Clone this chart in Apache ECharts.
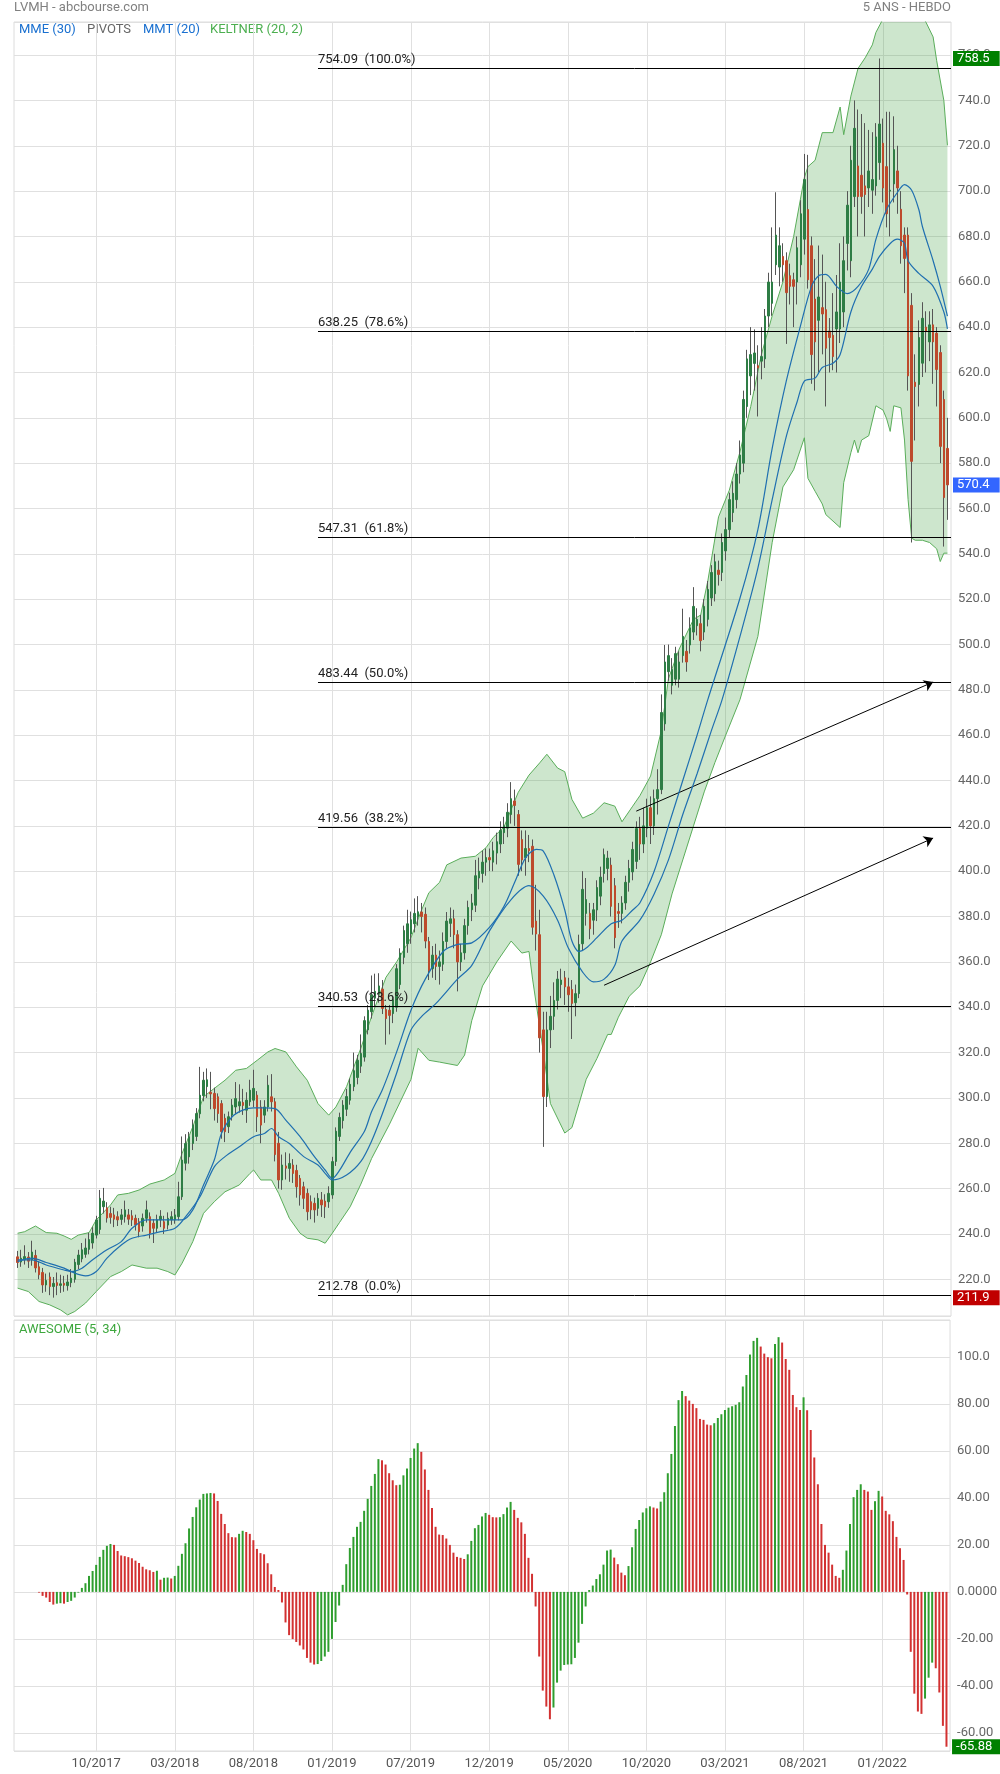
<!DOCTYPE html>
<html><head><meta charset="utf-8">
<script src="https://cdn.jsdelivr.net/npm/echarts@6/dist/echarts.min.js"></script>
<style>html,body{margin:0;padding:0;background:#fff}#c{width:1000px;height:1774px}</style>
</head><body><div id="c"></div>
<script>
// ---- weekly candles [open, close, low, high], week 0 = 2017-05-22 ----
const CANDLES = [
[229.9,227.4,225.0,232.5],[227.6,229.3,225.5,233.0],[228.6,230.0,226.5,235.0],[229.8,228.0,225.0,232.0],[228.5,232.0,226.0,237.0],
[230.5,225.0,223.0,233.0],[225.5,222.0,220.0,228.0],[223.0,217.5,214.0,225.0],[217.5,219.5,214.5,222.5],[221.0,216.8,213.0,223.0],
[216.8,218.2,211.9,221.0],[218.5,217.3,213.0,223.0],[217.3,218.0,214.0,222.0],[218.2,217.4,214.5,221.5],[217.2,218.8,215.0,222.0],
[218.5,220.5,216.5,224.5],[220.0,227.5,218.5,229.0],[226.5,230.7,224.5,233.0],[229.0,233.0,227.5,236.0],[231.0,233.8,229.5,238.0],
[233.2,237.5,231.0,240.5],[236.0,240.3,233.5,243.0],[239.5,246.2,238.0,248.0],[242.0,255.7,240.0,259.4],[252.0,254.5,249.0,260.3],
[251.5,247.0,245.0,254.0],[249.0,247.3,244.5,252.0],[248.4,246.5,243.0,251.5],[247.6,246.2,243.5,250.0],[246.4,248.4,244.0,251.0],
[247.6,250.6,245.0,254.7],[248.4,246.5,244.0,251.0],[248.0,246.2,243.5,250.5],[246.9,244.0,241.5,248.5],[245.4,241.0,238.5,247.0],
[243.5,246.9,241.0,249.0],[246.9,250.6,245.0,254.7],[247.6,240.3,238.0,249.5],[244.7,242.5,236.0,246.5],[242.5,246.2,240.5,248.5],
[246.2,247.8,243.0,250.5],[245.4,242.5,240.0,248.0],[243.9,246.9,242.0,249.5],[246.2,247.6,244.0,250.0],[246.2,248.4,244.5,251.0],
[247.6,256.4,246.0,263.0],[256.4,272.6,255.0,283.0],[271.2,279.9,268.0,284.0],[274.0,282.9,271.0,285.0],[279.9,288.0,277.0,290.5],
[283.0,293.1,281.0,295.5],[293.0,301.2,291.0,313.7],[301.0,307.8,298.5,311.5],[305.0,308.0,300.0,313.0],[302.5,301.8,295.0,311.5],
[302.0,295.3,290.0,304.5],[300.5,293.1,289.0,302.0],[297.5,285.1,282.0,299.0],[291.0,285.1,280.5,293.0],[287.3,291.7,284.5,294.0],
[292.4,296.8,290.0,299.5],[296.0,299.7,293.0,307.0],[296.5,298.3,293.5,306.0],[298.0,296.7,292.5,304.0],[294.6,299.0,289.0,302.5],
[298.3,303.4,296.5,308.0],[299.0,304.2,296.0,312.4],[301.2,291.7,285.0,303.0],[296.0,288.0,280.0,299.0],[292.4,296.0,289.0,299.0],
[296.0,305.6,294.0,310.0],[300.5,298.3,294.0,310.5],[298.3,275.0,272.0,300.0],[280.0,263.8,260.0,285.0],[263.8,270.4,259.5,275.0],
[270.0,269.0,264.0,276.0],[268.9,271.1,263.0,275.5],[270.4,266.7,262.5,273.0],[268.0,260.8,256.0,270.5],[264.5,257.2,252.5,266.0],
[260.8,255.7,251.0,263.0],[257.9,249.8,246.0,260.0],[254.2,250.6,246.5,257.0],[253.5,250.6,245.0,256.0],[251.3,255.7,248.0,258.0],
[255.0,252.8,247.5,258.5],[254.5,252.0,247.0,257.5],[254.2,257.9,251.5,261.0],[257.2,271.9,255.5,274.0],[272.0,285.3,270.0,287.0],
[283.0,291.4,281.0,293.5],[290.0,296.8,286.5,299.0],[295.0,300.6,292.0,304.0],[299.0,306.0,297.0,308.5],[305.0,312.0,303.0,320.0],
[309.0,316.6,306.0,319.0],[314.0,319.6,311.0,328.0],[318.0,334.1,316.0,336.0],[330.0,338.7,328.0,341.0],[338.0,345.5,335.0,354.0],
[344.0,347.0,340.0,354.8],[346.0,349.4,342.0,355.0],[348.0,339.5,337.0,352.0],[339.0,335.0,323.5,341.0],[338.7,336.4,328.0,341.0],
[337.2,343.3,333.0,345.0],[340.0,357.0,338.0,359.0],[350.0,363.9,348.0,366.0],[362.0,373.8,359.0,376.0],[368.0,376.8,364.0,383.0],
[372.3,378.6,368.0,382.2],[376.8,381.4,373.0,388.0],[379.9,382.1,376.0,389.0],[382.0,380.0,373.0,386.0],[381.0,369.2,366.0,384.0],
[369.0,356.0,352.0,371.0],[357.0,363.0,353.0,367.0],[363.0,358.0,352.0,368.0],[358.0,360.0,350.0,365.0],[359.0,369.0,356.0,373.0],
[369.0,378.0,366.0,382.0],[377.0,379.0,371.0,384.0],[379.0,372.0,366.0,383.0],[372.0,360.0,347.0,374.0],[360.0,364.0,356.0,368.0],
[364.0,376.0,361.0,379.0],[376.0,384.0,372.0,387.0],[383.0,386.0,378.0,390.0],[385.0,398.0,382.0,405.0],[397.0,400.0,392.0,406.0],
[399.0,404.0,395.0,409.0],[404.0,406.0,398.0,410.0],[406.0,405.0,400.0,410.0],[404.0,409.0,400.0,413.0],[408.0,413.0,403.0,417.0],
[412.0,418.0,408.0,422.0],[417.0,420.0,412.0,424.0],[419.0,426.0,415.0,430.0],[425.0,432.0,421.0,439.3],[431.0,429.0,420.0,436.0],
[425.0,403.0,398.0,427.0],[414.0,405.0,400.0,418.0],[406.0,410.0,398.0,418.0],[410.0,409.0,404.0,416.0],[411.0,375.3,372.0,414.0],
[378.0,372.3,365.0,394.0],[372.0,326.5,320.0,383.0],[330.0,300.6,278.4,338.0],[300.6,330.0,296.0,338.0],[330.0,336.0,322.0,345.0],
[336.0,343.0,330.0,351.0],[343.0,352.4,339.0,356.0],[350.0,352.0,344.0,357.0],[353.0,349.0,341.0,356.0],[349.0,345.5,338.0,353.0],
[347.8,341.7,326.0,352.0],[342.0,346.0,336.0,350.0],[346.0,367.7,344.0,372.0],[368.0,392.0,365.0,400.0],[381.4,387.5,376.0,397.0],
[381.4,374.6,370.0,386.0],[378.4,383.0,372.0,386.0],[382.9,392.8,378.0,396.0],[389.0,397.4,385.0,402.0],[399.0,407.3,395.0,410.0],
[401.2,405.8,396.0,409.0],[402.7,384.5,380.0,406.0],[393.6,370.7,366.0,397.0],[382.2,381.4,375.0,386.0],[381.4,386.0,377.0,389.0],
[386.0,395.1,383.0,398.0],[395.1,401.2,391.0,405.0],[399.7,409.6,396.0,413.0],[404.3,418.8,401.0,422.0],[418.8,412.0,405.0,424.0],
[412.0,420.0,408.0,428.0],[419.0,428.0,415.0,432.0],[428.0,420.0,412.0,433.0],[420.0,432.0,416.0,436.0],[432.0,436.0,425.0,445.0],
[436.0,470.0,434.0,478.0],[465.0,492.3,462.0,499.8],[488.0,495.1,484.0,500.0],[482.0,489.0,478.0,494.0],[484.7,496.0,482.0,499.0],
[484.7,492.3,481.0,497.0],[495.1,503.6,492.0,515.8],[497.0,492.3,488.0,502.0],[499.8,507.4,496.0,512.0],[505.5,516.8,502.0,525.3],
[508.3,511.1,504.0,516.0],[509.2,501.7,497.0,513.0],[505.5,516.8,502.0,520.0],[511.1,524.3,508.0,528.0],[520.5,531.8,517.0,535.0],
[522.4,536.5,519.0,540.0],[532.8,530.9,526.0,537.0],[531.8,545.0,528.0,549.0],[541.3,550.7,537.0,556.0],[550.7,563.9,547.0,567.0],
[558.2,566.7,554.0,572.0],[563.9,575.2,560.0,580.0],[575.2,583.6,571.0,590.0],[580.0,608.1,576.0,612.0],[605.0,626.0,600.0,630.0],
[618.5,627.9,610.0,640.0],[624.0,628.6,612.0,639.0],[623.0,622.0,600.6,632.0],[625.0,627.0,617.0,640.0],[626.0,644.9,622.0,648.0],
[644.9,659.9,640.0,664.0],[650.5,659.9,645.0,684.0],[667.5,680.6,663.0,699.5],[666.5,675.9,658.0,684.0],[671.2,667.5,660.0,677.0],
[669.3,655.2,632.6,673.0],[662.7,658.0,650.0,668.0],[660.9,658.0,640.0,664.0],[659.9,675.0,650.0,680.0],[667.5,690.0,662.0,696.0],
[678.8,705.1,672.0,716.4],[691.9,660.9,657.0,716.0],[675.9,627.9,615.0,680.0],[652.4,633.5,612.0,670.0],[643.0,653.3,620.0,676.0],
[648.6,645.8,628.0,672.0],[647.7,630.7,605.0,660.0],[638.3,635.4,620.0,644.0],[636.4,627.0,621.0,655.0],[639.2,646.7,620.0,663.0],
[639.2,659.9,633.0,677.0],[646.7,669.3,640.0,680.0],[676.9,693.8,665.0,700.0],[669.3,713.6,662.0,720.0],[697.6,727.7,693.0,740.0],
[711.1,697.6,680.0,736.0],[707.0,697.6,690.0,734.0],[702.3,698.5,680.0,730.0],[701.4,708.9,693.0,727.0],[700.4,705.1,690.0,726.0],
[702.3,723.9,698.0,730.0],[712.6,729.6,705.0,758.5],[721.1,701.4,695.0,732.0],[710.8,690.0,684.0,735.0],[700.0,700.4,680.0,735.0],
[703.2,718.3,695.0,733.0],[708.9,701.4,690.0,720.0],[692.0,675.9,668.0,700.0],[680.6,670.3,655.0,684.0],[680.6,618.5,612.0,684.0],
[649.6,580.8,545.0,655.0],[615.7,613.8,590.0,628.0],[614.7,635.4,605.0,643.0],[624.1,643.9,618.0,651.0],[640.0,638.0,620.0,647.0],
[633.5,641.0,625.0,647.0],[641.0,633.5,615.0,648.0],[637.3,621.3,605.0,640.0],[628.8,587.4,580.0,632.0],[608.1,564.8,543.2,612.0],
[586.5,570.4,555.0,600.0]
];

// ---- Awesome oscillator, from week 6 ----
const AO_START = 6;
const AO = [
-0.3,-1.7,-2.4,-4.3,-5.4,-5.0,-4.8,-5.0,-4.3,-3.8,-2.4,-0.3,1.7,3.7,6.8,8.9,
11.5,14.9,17.9,19.6,20.4,20.0,17.4,15.5,15.2,14.8,14.3,13.3,12.3,10.7,9.6,9.2,8.5,9.0,5.2,6.0,6.1,5.7,
6.8,11.1,16.2,20.7,27.0,31.9,36.0,39.3,41.7,41.9,42.1,41.9,38.7,33.2,28.9,25.0,23.3,23.2,24.7,26.0,25.5,24.7,
22.0,18.3,16.5,16.0,12.2,7.5,2.1,0.8,-4.5,-13.0,-18.4,-20.1,-21.3,-22.8,-24.5,-28.1,-30.1,-30.9,-30.7,-29.4,-27.5,-25.5,
-20.0,-12.8,-5.8,3.0,11.8,18.7,23.4,27.7,29.8,34.5,39.6,45.1,50.2,56.5,56.0,54.2,50.5,47.5,45.4,45.6,49.6,52.5,
57.0,61.0,63.3,59.6,52.1,43.4,35.7,27.7,24.4,24.2,22.7,20.0,16.7,14.9,14.5,14.0,16.0,21.7,27.1,28.5,32.1,33.6,
32.8,31.8,31.7,31.8,33.1,35.9,38.3,34.9,31.5,29.6,24.7,14.5,7.7,-6.2,-27.5,-42.0,-48.8,-54.2,-49.2,-38.6,-33.5,-31.1,
-30.9,-30.8,-28.1,-21.6,-13.6,-6.2,0.8,2.7,5.5,7.5,11.6,17.6,18.0,14.6,11.8,8.2,7.1,11.0,19.0,26.8,30.6,33.8,
35.6,36.4,35.9,35.5,38.4,42.4,50.5,58.7,70.6,81.6,85.5,83.3,81.4,80.0,78.2,73.6,73.2,71.2,70.9,71.8,74.0,75.6,
77.4,78.4,79.0,79.6,80.7,87.4,92.3,101.0,106.8,108.1,104.4,101.4,99.9,99.4,105.5,108.4,106.1,99.1,94.5,83.8,78.6,77.4,
82.8,77.3,68.9,57.2,45.8,28.9,20.0,16.7,11.6,6.8,6.0,9.4,17.6,28.9,40.3,43.4,45.8,43.4,42.7,34.9,38.6,43.0,
40.6,34.5,33.0,30.1,23.4,18.6,13.6,-1.1,-25.5,-43.3,-50.9,-51.9,-45.4,-36.5,-30.1,-32.5,-42.8,-57.0,-65.88
];

// ---- Keltner (20,2) bands, read as [week, value] ----
const KELT_UP = [[0,240.3],[2,241],[5,243.5],[8,240.6],[11,240.3],[13,239.1],[15,237.6],[17,239.5],[20,240.6],[22,246.2],[26,252.8],[28,257.2],[31,257.9],[34,259.4],[37,262],[41,263.8],[44,266.7],[46,275.5],[49,287.3],[52,300.5],[55,304.2],[58,307.8],[61,312.2],[64,313],[67,316.6],[70,320.3],[72,321.8],[75,320.3],[78,313.7],[81,307.8],[84,297.5],[87,292.4],[89,296],[92,305],[96,322],[99,336],[103,353.2],[106,360],[110,370.7],[113,383],[115,390.5],[118,395.1],[120,402.8],[124,405.8],[128,406.6],[131,410.4],[133,414.9],[136,419.5],[140,434.8],[143,442.4],[146,447.8],[148,451.6],[151,445.5],[153,443.9],[155,431.7],[158,423.4],[161,425.6],[164,430.2],[167,428.7],[169,421.8],[172,428.7],[174,433.3],[177,442],[180,462],[182,485],[185,498],[189,511.1],[191,513],[193,528],[196,556.3],[199,568],[202,585],[205,605],[208,628],[211,645],[214,660],[217,680],[220,706],[221,710.8],[223,713.6],[225,725.8],[228,725.8],[230,737.1],[231,724.9],[233,741.9],[235,754.1],[237,758.8],[239,764.5],[240,770],[242,776],[244,782],[247,785],[250,784],[252,779],[254,774.5],[256,768],[257,757.5],[259,740],[260,720.2]];
const KELT_LO = [[0,216.1],[3,214.6],[6,210.2],[9,208.7],[12,206.5],[14,204.3],[16,205.8],[19,209.5],[22,214.6],[26,221.2],[29,223.4],[32,226.3],[36,224.9],[39,224.9],[42,223.4],[44,221.9],[46,227.1],[49,236.6],[52,249.1],[55,254.2],[58,258.6],[62,261.6],[65,266.7],[66,268.2],[68,263.8],[71,263.8],[73,257.9],[76,246.9],[79,240.3],[81,238.1],[84,237.4],[86,235.9],[88,240.3],[90,245],[93,252],[96,262],[99,273.3],[104,288.4],[110,308.2],[112,321.9],[115,316.6],[118,315.8],[123,314.3],[125,318.9],[127,334.1],[130,349.4],[134,360],[138,369.2],[141,363.9],[143,364.6],[144,352.4],[147,320.4],[149,297.5],[153,284.5],[155,286.9],[157,297.5],[159,308.2],[162,317.4],[165,328],[166,328],[168,335.6],[171,344.8],[174,349.4],[177,360],[180,372],[183,390],[186,405],[189,420],[192,435],[195,448],[198,460],[202,475.7],[207,503.6],[211,545],[214,569.5],[217,577.1],[220,591.2],[221,573.3],[223,567.6],[225,562],[226,557.3],[230,551.6],[231,571.4],[233,584.6],[234,590.2],[235,584.6],[236,590.2],[238,592.1],[240,605.3],[242,603.4],[243,599.6],[244,594],[245,605.3],[247,604.4],[248,590.2],[249,563.9],[250,546.9],[251,546],[253,546],[255,545],[257,542.2],[258,536.6],[259,540.3],[260,540.3]];

// ---- moving averages MMT(20) / MME(30), read as [week, value] ----
const MA_A = [[0,228.6],[4,228.6],[8,226.3],[13,224.1],[15,223.4],[18,224.9],[21,228.6],[25,233],[29,236.6],[32,242.5],[36,246.2],[40,246.2],[43,246.2],[46,246.2],[49,250.6],[52,261.6],[55,272.6],[57,284.3],[60,291.7],[63,294.6],[66,295.6],[69,295.6],[72,295.3],[75,290.2],[79,282.9],[83,274.1],[86,268.2],[88,264.5],[90,268],[93,276],[97,285.3],[99,294],[102,303.6],[106,320.3],[110,338.7],[114,352.4],[119,364.6],[123,367.7],[127,368.4],[132,375.3],[136,384.5],[139,395.1],[142,405.8],[145,409.6],[147,408.9],[150,398.2],[153,382.9],[155,369.2],[157,364.6],[159,366.1],[162,370.7],[166,376.8],[169,378.4],[172,382.9],[174,386],[178,400],[182,420],[186,440],[190,460],[193,475.7],[202,520.5],[207,550.7],[211,586.5],[215,616.6],[219,641.1],[222,658],[224,662.7],[226,663.3],[229,658],[232,654.8],[235,658],[238,665.6],[240,678.7],[243,691.9],[246,699.4],[248,702.9],[250,700.4],[252,691.9],[253,684.4],[256,669.3],[258,658],[260,644.9]];
const MA_B = [[0,227.8],[4,229.3],[8,227.4],[13,224.9],[16,222.7],[19,221.5],[22,223.4],[25,229.3],[29,235.1],[32,238.1],[36,239.5],[40,241],[44,242.5],[47,247.6],[51,256.4],[55,269.6],[58,274.1],[62,278.5],[66,282.9],[69,284.3],[71,286.5],[73,282.9],[76,279.9],[80,274.1],[84,270.4],[86,266.7],[88,263.8],[92,266],[96,272],[99,281],[102,293],[106,311],[110,330],[113,336],[117,341.7],[123,352.4],[127,358.5],[132,373.8],[138,387.5],[143,393.6],[147,389],[151,378.4],[154,366.1],[158,355.5],[161,351.2],[164,352.4],[167,358.5],[169,369.2],[174,378.4],[178,390],[182,405],[186,425],[190,443],[194,462],[197,475.7],[202,503.6],[207,533.7],[211,563.9],[215,592.1],[218,607.2],[220,616.2],[223,617.5],[225,622.2],[228,624.1],[230,627.9],[233,646.7],[236,658],[239,665.6],[241,671.2],[244,676.9],[246,678.8],[248,676.9],[249,669.3],[252,663.7],[256,658],[259,646.7],[260,639.2]];

// ---- Fibonacci levels and drawn arrows ----
const FIB_LEVELS = [754.09, 638.25, 547.31, 483.44, 419.56, 340.53, 212.78];
const FIB_PCTS = ['100.0%', '78.6%', '61.8%', '50.0%', '38.2%', '23.6%', '0.0%'];
const FIB_START_WEEK = 84;
const ARROWS = [[[173, 426.5], [256, 483.44]], [[164, 349.7], [256, 414.6]]];
const GRID_EVERY = 22;

// ---- build ----
const OFF = 1;
const NCAT = CANDLES.length + 2;
const START = Date.UTC(2017, 4, 22);
const DATES = [];
for (let c = 0; c < NCAT; c++) DATES.push(new Date(START + (c - OFF) * 7 * 864e5).toISOString().slice(0, 10));

const UP = '#2e7d45', DOWN = '#bd4a2c', WICK = '#555';
const FONT = 'Roboto, sans-serif';
const gridFn = (index) => { const w = index - OFF; return w >= GRID_EVERY && w <= 242 && w % GRID_EVERY === 0; };

const maxHigh = Math.max(...CANDLES.map(d => d[3]));
const minLow = Math.min(...CANDLES.map(d => d[2]));
const lastClose = CANDLES[CANDLES.length - 1][1];
const lastAO = AO[AO.length - 1];

const tag = (v, col, digits) => ({
  yAxis: v, lineStyle: { color: 'rgba(0,0,0,0)', width: 1, opacity: 1 },
  label: { show: true, position: 'end', distance: 2, formatter: v.toFixed(digits), backgroundColor: col,
    color: '#fff', opacity: 1, padding: [1, 10, 0, 4], lineHeight: 14, fontSize: 13, fontFamily: FONT }
});

const aoData = AO.map((v, k) => {
  const prev = k > 0 ? AO[k - 1] : Infinity;
  return { value: [AO_START + k + OFF, v], itemStyle: { color: v > prev ? '#2f9e2f' : '#d23131' } };
});

const xBase = (gi, showLabels) => ({
  type: 'category', gridIndex: gi, data: DATES, boundaryGap: false,
  axisLine: { show: false }, axisTick: { show: false },
  splitLine: { show: true, interval: gridFn, lineStyle: { color: '#e0e0e0', width: 1 } },
  axisLabel: showLabels ? { show: true, interval: gridFn, color: '#555', fontSize: 13, fontFamily: FONT, margin: 6,
    formatter: v => v.slice(5, 7) + '/' + v.slice(0, 4) } : { show: false }
});

const chart = echarts.init(document.getElementById('c'), null, { renderer: 'canvas' });
chart.setOption({
  animation: false,
  backgroundColor: '#fff',
  grid: [
    { left: 14, right: 49, top: 22, height: 1294, show: true, borderColor: '#dcdcdc', borderWidth: 1 },
    { left: 14, right: 49, top: 1320, height: 431, show: true, borderColor: '#dcdcdc', borderWidth: 1 }
  ],
  xAxis: [xBase(0, false), xBase(1, true)],
  yAxis: [
    { type: 'value', gridIndex: 0, position: 'right', min: 203.8, max: 774.6, splitNumber: 28,
      axisLine: { show: false }, axisTick: { show: false },
      splitLine: { lineStyle: { color: '#e0e0e0' } },
      axisLabel: { showMinLabel: false, showMaxLabel: false, color: '#666', fontSize: 13, fontFamily: FONT, margin: 7,
        padding: [0, 0, 6, 0], formatter: v => v.toFixed(1) } },
    { type: 'value', gridIndex: 1, position: 'right', min: -67.7, max: 115.7, splitNumber: 9,
      axisLine: { show: false }, axisTick: { show: false },
      splitLine: { lineStyle: { color: '#e0e0e0' } },
      axisLabel: { showMinLabel: false, showMaxLabel: false, color: '#666', fontSize: 13, fontFamily: FONT, margin: 7,
        padding: [0, 0, 4, 0], formatter: v => (v === 0 ? '0.0000' : v.toPrecision(4)) } }
  ],
  graphic: { elements: [
    { type: 'text', left: 14, top: 1, style: { text: 'LVMH - abcbourse.com', fill: '#808080', font: '13px ' + FONT } },
    { type: 'text', right: 49, top: 1, style: { text: '5 ANS - HEBDO', fill: '#808080', font: '13px ' + FONT } },
    { type: 'text', left: 19, top: 23, style: { text: 'MME (30)', fill: '#1a70d0', font: '13px ' + FONT } },
    { type: 'text', left: 87, top: 23, style: { text: 'PIVOTS', fill: '#666', font: '13px ' + FONT } },
    { type: 'text', left: 143, top: 23, style: { text: 'MMT (20)', fill: '#1a70d0', font: '13px ' + FONT } },
    { type: 'text', left: 210, top: 23, style: { text: 'KELTNER (20, 2)', fill: '#4caf50', font: '13px ' + FONT } },
    { type: 'text', left: 19, top: 1323, style: { text: 'AWESOME (5, 34)', fill: '#3da73d', font: '13px ' + FONT } }
  ] },
  series: [
    { type: 'custom', xAxisIndex: 0, yAxisIndex: 0, z: 1, silent: true, clip: true,
      data: [[OFF, KELT_UP[0][1]]],
      renderItem: (params, api) => {
        const pts = KELT_UP.map(p => api.coord([p[0] + OFF, p[1]]));
        for (let k = KELT_LO.length - 1; k >= 0; k--) pts.push(api.coord([KELT_LO[k][0] + OFF, KELT_LO[k][1]]));
        const cs = params.coordSys;
        return { type: 'group',
          clipPath: { type: 'rect', shape: { x: cs.x, y: cs.y, width: cs.width, height: cs.height } },
          children: [{ type: 'polygon', shape: { points: pts }, style: { fill: 'rgba(60,160,60,0.26)' } }] };
      } },
    { type: 'line', xAxisIndex: 0, yAxisIndex: 0, z: 2, silent: true, symbol: 'none',
      data: KELT_UP.map(p => [p[0] + OFF, p[1]]), lineStyle: { color: '#5aad5a', width: 1 } },
    { type: 'line', xAxisIndex: 0, yAxisIndex: 0, z: 2, silent: true, symbol: 'none',
      data: KELT_LO.map(p => [p[0] + OFF, p[1]]), lineStyle: { color: '#5aad5a', width: 1 } },
    { type: 'candlestick', xAxisIndex: 0, yAxisIndex: 0, z: 3, silent: true, barWidth: 1,
      data: CANDLES.map((d, i) => [i + OFF, d[0], d[1], d[2], d[3]]), encode: { x: 0, y: [1, 2, 3, 4] },
      itemStyle: { color: WICK, color0: WICK, borderColor: WICK, borderColor0: WICK, borderColorDoji: WICK, borderWidth: 1 },
      markLine: { silent: true, symbol: ['none', 'arrow'], symbolSize: 9, animation: false,
        lineStyle: { color: '#000', width: 1, type: 'solid' }, label: { show: false },
        data: ARROWS.map(a => [{ coord: [a[0][0] + OFF, a[0][1]] }, { coord: [a[1][0] + OFF, a[1][1]] }]) } },
    { type: 'candlestick', xAxisIndex: 0, yAxisIndex: 0, z: 4, silent: true, barWidth: 2,
      data: CANDLES.map((d, i) => [i + OFF, d[0], d[1], Math.min(d[0], d[1]), Math.max(d[0], d[1])]), encode: { x: 0, y: [1, 2, 3, 4] },
      itemStyle: { color: UP, color0: DOWN, borderColor: UP, borderColor0: DOWN, borderColorDoji: UP, borderWidth: 1 },
      markLine: { silent: true, symbol: ['none', 'none'], animation: false,
        lineStyle: { color: '#000', width: 1, type: 'solid' },
        data: FIB_LEVELS.map((v, k) => [
            { coord: [FIB_START_WEEK + OFF, v], label: { show: true, position: 'insideStartTop', distance: [0, 2],
              formatter: v.toFixed(2) + '  (' + FIB_PCTS[k] + ')', color: '#222', fontSize: 13, fontFamily: FONT } },
            { coord: [NCAT - 1, v] }
          ]) } },
    { type: 'line', xAxisIndex: 0, yAxisIndex: 0, z: 5, silent: true, symbol: 'none', smooth: 0.3,
      data: MA_A.map(p => [p[0] + OFF, p[1]]), lineStyle: { color: '#1f6fb0', width: 1.2 } },
    { type: 'line', xAxisIndex: 0, yAxisIndex: 0, z: 5, silent: true, symbol: 'none', smooth: 0.3,
      data: MA_B.map(p => [p[0] + OFF, p[1]]), lineStyle: { color: '#1f6fb0', width: 1.2 },
      markLine: { silent: true, symbol: ['none', 'none'], animation: false,
        data: [tag(maxHigh, '#008000', 1), tag(lastClose, '#3366ff', 1), tag(minLow, '#c00000', 1)] } },
    { type: 'bar', xAxisIndex: 1, yAxisIndex: 1, barWidth: 2, silent: true, data: aoData,
      markLine: { silent: true, symbol: ['none', 'none'], animation: false, data: [tag(lastAO, '#008000', 2)] } }
  ]
});
</script></body></html>
